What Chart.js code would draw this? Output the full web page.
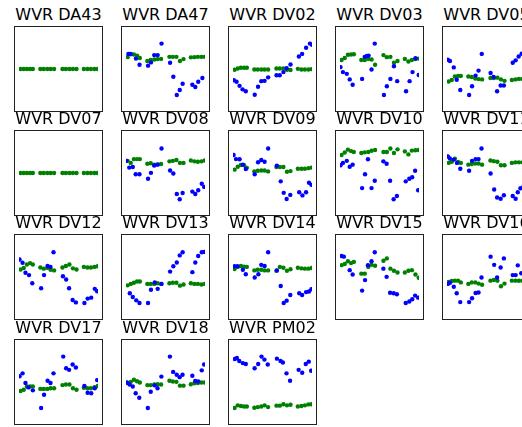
<!DOCTYPE html>
<html>
<head>
<meta charset="utf-8">
<script src="https://cdn.jsdelivr.net/npm/chart.js@4/dist/chart.umd.min.js"></script>
<style>
  body { margin: 0; width: 522px; height: 427px; overflow: hidden; background: #fff; position: relative; font-family: 'DejaVu Sans', sans-serif; }
  .title { position: absolute; width: 130px; text-align: center; font-size: 16px; line-height: 16px; color: #000; white-space: nowrap; }
  .box { position: absolute; width: 89px; height: 86px; box-sizing: border-box; border: 1px solid #222; }
  .box canvas { position: absolute; left: 0; top: 0; }
</style>
</head>
<body>
<script>
// Panels, left to right, top to bottom
const panelNames = [
  'WVR DA43', 'WVR DA47', 'WVR DV02', 'WVR DV03', 'WVR DV05',
  'WVR DV07', 'WVR DV08', 'WVR DV09', 'WVR DV10', 'WVR DV11',
  'WVR DV12', 'WVR DV13', 'WVR DV14', 'WVR DV15', 'WVR DV16',
  'WVR DV17', 'WVR DV18', 'WVR PM02',
];

// green series shares one time axis (0-100 across the panel)
const greenTimes = [2, 6, 10, 14, 17.5, 27, 31.3, 35.8, 40, 44.4, 55, 59.3, 63.8, 68.3, 72.8, 82.1, 86.6, 91, 95.5, 99.6];

const greenValues = [
  [50, 50, 50, 50, 50, 50, 50, 50, 50, 50, 50, 50, 50, 50, 50, 50, 50, 50, 50, 50],
  [65.6, 69.5, 69, 67.6, 64.5, 60.6, 61.8, 62.5, 63, 63.3, 66, 66, 66, 60.6, 63, 65.3, 65.6, 66, 66, 66],
  [49, 50.6, 51.7, 51.7, 51.7, 49.4, 49.4, 49.4, 49.4, 49.4, 50.6, 50.6, 50.6, 49, 48.6, 50.2, 49.4, 49.4, 49.4, 49.8],
  [61.8, 64.5, 68.7, 69.1, 69.5, 61.8, 61.8, 63.3, 62.5, 55.6, 68.3, 65.6, 66, 58.3, 60.6, 63.3, 59.8, 61.8, 63, 63.7],
  [33.6, 35.5, 40.2, 40.9, 40.9, 40.2, 39.4, 37.5, 36.7, 36.3, 38.2, 38.2, 38.6, 36.3, 34.4, 35.5, 36.3, 37, 37, 37],
  [50, 50, 50, 50, 50, 50, 50, 50, 50, 50, 50, 50, 50, 50, 50, 50, 50, 50, 50, 50],
  [66, 63.3, 68.3, 68.3, 68.3, 62.2, 62.9, 61, 61.4, 61.8, 65.3, 66, 67.2, 63.3, 63.3, 66.4, 65.3, 64.9, 65.3, 66.4],
  [54.4, 58.3, 60.6, 60.2, 56.8, 52.1, 52.9, 53.3, 53.3, 52.1, 57.9, 57.9, 57.9, 51.7, 52.5, 55.6, 55.6, 55.6, 56.4, 57.1],
  [73.7, 77, 80.7, 78.8, 77.6, 76.4, 77.2, 77.6, 79.2, 80.3, 77.6, 77.6, 82.2, 76.4, 81.1, 78.4, 74.5, 79.5, 79.9, 80.3],
  [63.3, 64.9, 68.7, 64.5, 63.3, 61, 61.8, 62.5, 62.5, 61, 66.4, 65.6, 64.9, 60.2, 60.2, 63.3, 64, 64, 64, 64],
  [59.8, 61.8, 66.4, 68.3, 66.4, 62.5, 61, 62, 59.5, 58.7, 62.5, 64.5, 66.4, 61.4, 59.8, 63.3, 62.5, 62.5, 63.3, 64.1],
  [39, 40.9, 42.5, 44, 44, 40.9, 40.9, 40.9, 41.7, 40.9, 41.7, 42.5, 42.5, 38.6, 40.2, 41.7, 40.9, 40.9, 40.2, 40.9],
  [60.6, 63.3, 64.5, 63.7, 63.3, 58.7, 59.5, 59.5, 58.7, 58.7, 58.3, 63.3, 62.2, 58.3, 60.2, 62.2, 61.4, 61, 61, 61.8],
  [65.6, 67.2, 70.7, 68.3, 69.9, 54.4, 54.4, 63.3, 66, 64.9, 71.4, 74.5, 61, 58.3, 56, 56, 58.3, 59, 53.3, 49],
  [43.6, 44.8, 45.2, 45.2, 42.9, 40.9, 42.9, 42.9, 41.3, 39.8, 45.2, 46, 45.2, 37.8, 41.3, 45.2, 45.2, 45, 45, 45],
  [38.2, 39.8, 44, 44, 44, 40.9, 40.9, 40.9, 41.7, 41.7, 45.9, 46.7, 46.7, 41.7, 39.8, 42.5, 41.7, 41.7, 43.2, 44.8],
  [48.6, 50.2, 52.9, 51, 49.4, 45.9, 45.9, 46.7, 47.1, 46.7, 51.7, 50.6, 50.2, 45.2, 45.2, 47.1, 48.3, 48.6, 49.4, 49.4],
  [15.8, 19.3, 18.5, 17.8, 17.8, 16.2, 17, 17.8, 19.3, 17, 18.9, 18.9, 20.8, 19.3, 20.1, 17.8, 18.5, 19.3, 20.5, 20.8],
];

// blue series: own times per panel
const blueTimes = [
  [],
  [3, 5.9, 12.6, 17.1, 27.9, 31.6, 35.7, 40.1, 45, 55.8, 59.9, 64.3, 68, 71.7, 84, 87.7, 91.4, 96.7],
  [1.1, 4.5, 8.3, 12.1, 16.2, 27.5, 31.7, 35.8, 40, 44.5, 55.1, 59.2, 63.8, 67.9, 72.8, 83.4, 87.5, 92.5, 97.4, 100],
  [0.7, 3.7, 8.6, 12.3, 16, 28, 31.3, 34, 36.2, 39.9, 44, 55.6, 59.3, 63.8, 68.3, 72.4, 83.6, 88.1, 91.8, 95.5, 99.6],
  [1.1, 3.7, 8.6, 12.3, 16.8, 28, 31.7, 36.2, 39.9, 44, 55.2, 59, 63.4, 67.9, 72, 83.2, 86.9, 90.7, 94.5, 98],
  [],
  [0.4, 4.1, 8.6, 12.3, 17.1, 27.9, 31.6, 35.7, 40.1, 45, 55.8, 59.9, 64.3, 68, 71.7, 84, 87.7, 91.4, 95.9, 98.9],
  [0.8, 3.8, 8.3, 12.5, 16.2, 27.5, 31.7, 35.8, 40, 44.5, 55.5, 60.4, 64.2, 67.9, 72.5, 83.8, 87.9, 92.5, 96.2, 99.2],
  [0.7, 3.7, 8.6, 12.3, 16, 28, 31.7, 35.4, 39.9, 44, 54.9, 59, 63.4, 67.9, 72, 83.2, 87.7, 91.4, 95.1, 98.9],
  [1.1, 3.7, 8.6, 12.7, 16.8, 28, 31.7, 36.2, 39.9, 43.7, 55.2, 59.7, 63.4, 67.9, 72, 83.2, 86.9, 89.6, 93, 97],
  [0.7, 4.5, 8.2, 12.7, 16.8, 28, 31.7, 36.2, 39.9, 43.7, 55.6, 59.7, 63.4, 67.9, 72, 82.8, 86.9, 91.4, 95.9, 98.9],
  [4.8, 8.6, 13, 17.1, 27.9, 31.6, 36.4, 40.1, 45, 55.8, 59.9, 64.3, 68, 71.7, 84, 87.7, 91.4, 95.9, 98.9],
  [1.9, 5.7, 12.5, 16.2, 27.5, 32.1, 35.8, 40, 44.5, 55.5, 60.4, 64.2, 67.9, 72.5, 83.8, 87.5, 92.5, 96.2, 99.2],
  [1.9, 4.9, 12.3, 16, 28, 31.7, 35.4, 39.9, 44, 54.9, 59, 63.4, 67.9, 72, 83.2, 87.7, 91.4, 95.1, 98.9],
  [1.1, 3.7, 8.6, 12.3, 16.8, 28, 31.7, 36.2, 39.9, 43.7, 55.2, 59.7, 63.4, 67.9, 72, 83.2, 86.9, 89.6, 94, 98],
  [0.7, 4.5, 8.2, 11.9, 17.5, 28, 31.7, 36.2, 39.9, 43.7, 56, 59.7, 63.4, 67.9, 72, 82.8, 86.9, 91.4, 95.9, 98.9],
  [1.1, 4.5, 8.6, 12.3, 16.8, 27.6, 31.3, 36.2, 39.9, 44.8, 55.6, 59.7, 64.2, 67.9, 71.6, 84, 87.7, 91.4, 95.9, 98.9],
  [2.3, 4.9, 7.9, 12.4, 16.2, 27.4, 31.9, 36.1, 39.8, 44, 55.6, 60.2, 63.2, 67.7, 72.2, 83.1, 87.6, 92.1, 95.9, 98.9],
];

const blueValues = [
  [],
  [69.9, 69.9, 63.7, 55.6, 54.4, 58.7, 68.3, 68.3, 83.4, 58.3, 39.8, 15.8, 22.4, 30.5, 29.3, 26.3, 33.2, 38.2],
  [35.1, 33.2, 27.8, 23.2, 20.8, 16.2, 26.6, 34, 34.4, 39, 41.7, 41.7, 45.9, 51, 56, 66.4, 69.9, 78, 83.4, 82],
  [52.5, 45.9, 43.6, 36.3, 29.3, 37, 66, 67.2, 67.6, 49.4, 83.4, 15.8, 27.4, 37, 53.7, 34, 20.8, 34, 45.9, 64.1, 42.1],
  [62.2, 60.6, 52.1, 35.9, 22.4, 15.8, 27.4, 41.3, 47.9, 69.9, 44.8, 39.4, 20.8, 28.2, 28.2, 58.3, 61.4, 66.4, 70, 72],
  [],
  [66, 57.1, 57.9, 48.3, 48.3, 42.5, 50.2, 59.8, 61, 82.2, 53.3, 49.4, 22.4, 15.4, 23.6, 25.5, 22.4, 27.4, 35.9, 31.7],
  [73.7, 68.3, 68, 61, 55.2, 48.3, 64.1, 67.2, 64.9, 82.2, 59.5, 39, 23.9, 15.8, 21.2, 24.7, 20.5, 24.7, 37.1, 34.4],
  [60.2, 63.3, 66, 58.3, 61, 30.1, 48.3, 68, 30.1, 39.8, 65.3, 62.2, 39.8, 15.4, 19.7, 39, 42.5, 44.4, 52.9, 27.4],
  [71.8, 69.1, 67.6, 63.3, 55.6, 52.9, 66, 68.3, 68.3, 82.2, 49.4, 28.2, 17.8, 16.2, 20.8, 19.7, 16.2, 24.7, 30, 33],
  [73, 68.7, 55.6, 52.5, 41.7, 35.1, 52.5, 64.5, 63.3, 82.6, 51, 46.7, 35.1, 19.7, 16.6, 15.8, 21.6, 22.8, 34.4, 31.3],
  [28.6, 23.6, 19.3, 15.8, 15.8, 33.2, 42.9, 34.4, 40.9, 57.1, 64.1, 69.1, 78.4, 82.6, 56.4, 69.1, 77.6, 82.6, 83],
  [64.1, 64.1, 59.5, 53.7, 49.4, 53.7, 66, 64.5, 82.6, 58.7, 38.2, 15.8, 18.9, 26.3, 28.6, 26.3, 30.1, 30.9, 34],
  [77.6, 76.8, 59, 53.3, 32.1, 45.9, 65.6, 70.7, 82.6, 61, 50.2, 29.3, 28.6, 27.4, 15.8, 17.8, 20.8, 25.5, 22.8],
  [40.9, 42.5, 37.1, 28.6, 17, 17, 22, 29, 29.7, 49.4, 76.8, 66, 49.4, 62.5, 74.5, 52.5, 52.5, 65.3, 55, 60],
  [57.5, 61.4, 48.6, 42.9, 39, 15.8, 33.2, 51.7, 48.6, 61.4, 83.4, 68, 66, 73, 69.1, 44.8, 35.9, 35.1, 41.7, 52.5],
  [49.4, 46.7, 44, 35.1, 29.3, 15.8, 37.1, 45.6, 41.7, 57.1, 83.4, 63.3, 59.5, 56.4, 59.5, 58.3, 51.4, 50.6, 65.3, 73],
  [80.3, 81.5, 77.6, 74.9, 73.7, 68, 73.7, 83.4, 79.5, 73, 80.7, 77.6, 75.7, 61.4, 51.7, 66, 62.2, 73.7, 76.8, 64.9],
];

// grid layout
const colLeft = [14, 121, 228, 335, 442];
const rowTop = [26, 130, 234, 339];

panelNames.forEach((name, i) => {
  const left = colLeft[i % 5];
  const top = rowTop[Math.floor(i / 5)];

  const title = document.createElement('div');
  title.className = 'title';
  title.textContent = name;
  title.style.left = (left + 44.5 - 65) + 'px';
  title.style.top = (top - 19.5) + 'px';
  document.body.appendChild(title);

  const box = document.createElement('div');
  box.className = 'box';
  box.style.left = left + 'px';
  box.style.top = top + 'px';
  const canvas = document.createElement('canvas');
  canvas.width = 87;
  canvas.height = 84;
  box.appendChild(canvas);
  document.body.appendChild(box);

  const blue = blueTimes[i].map((t, k) => ({ x: t, y: blueValues[i][k] }));
  const green = greenTimes.map((t, k) => ({ x: t, y: greenValues[i][k] }));

  new Chart(canvas, {
    type: 'scatter',
    data: {
      datasets: [
        { data: blue, backgroundColor: '#0000ff', pointRadius: 2.2, borderWidth: 0 },
        { data: green, backgroundColor: '#008000', pointRadius: 2.2, borderWidth: 0 },
      ],
    },
    options: {
      responsive: false,
      animation: false,
      events: [],
      layout: { padding: 0 },
      plugins: { legend: { display: false }, tooltip: { enabled: false } },
      scales: {
        x: { type: 'linear', min: 0, max: 100, display: false },
        y: { min: 0, max: 100, display: false },
      },
    },
  });
});
</script>
</body>
</html>
